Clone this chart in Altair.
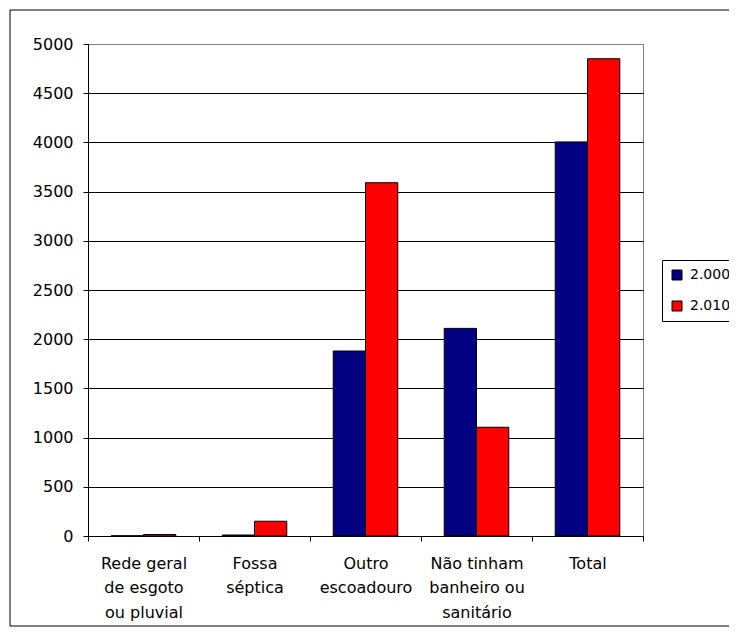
import altair as alt
import pandas as pd

categories = [
    "Rede geral de esgoto ou pluvial",
    "Fossa séptica",
    "Outro escoadouro",
    "Não tinham banheiro ou sanitário",
    "Total",
]
label_lines = [
    ["Rede geral", "de esgoto", "ou pluvial"],
    ["Fossa", "séptica"],
    ["Outro", "escoadouro"],
    ["Não tinham", "banheiro ou", "sanitário"],
    ["Total"],
]
series = ["2.000", "2.010"]
values_2000 = [2, 10, 1880, 2110, 4005]
values_2010 = [15, 150, 3590, 1105, 4850]
y_ticks = list(range(0, 5001, 500))

df = pd.DataFrame({
    "categoria": categories * 2,
    "ano": [series[0]] * len(categories) + [series[1]] * len(categories),
    "valor": values_2000 + values_2010,
})

label_expr = ""
for c, lines in zip(categories, label_lines):
    label_expr += f"datum.value == {c!r} ? {lines!r} : "
label_expr += "datum.label"

FONT = "DejaVu Sans"

bars = alt.Chart(df).mark_bar(stroke="black", strokeWidth=1).encode(
    x=alt.X(
        "categoria:N",
        sort=categories,
        scale=alt.Scale(paddingInner=0, paddingOuter=0),
        axis=alt.Axis(
            title=None, labelAngle=0, labelExpr=label_expr, labelFont=FONT,
            labelFontSize=16, labelColor="black", labelPadding=14,
            labelLineHeight=24.5, tickBand="extent", tickSize=5,
            tickColor="black", domainColor="black", grid=False, labelLimit=0,
        ),
    ),
    xOffset=alt.XOffset("ano:N", sort=series,
                        scale=alt.Scale(paddingInner=0, paddingOuter=0.72)),
    y=alt.Y(
        "valor:Q",
        scale=alt.Scale(domain=[0, 5000], nice=False),
        axis=alt.Axis(
            title=None, values=y_ticks, format="d", labelFont=FONT,
            labelFontSize=16, labelColor="black", labelPadding=10,
            tickSize=5, tickColor="black", domainColor="black", grid=True,
            gridColor={"condition": {"test": "datum.value == 5000", "value": "#808080"},
                       "value": "black"},
            gridWidth=1,
        ),
    ),
    color=alt.Color(
        "ano:N",
        sort=series,
        scale=alt.Scale(domain=series, range=["#000080", "#ff0000"]),
        legend=alt.Legend(
            title=None, orient="none", legendX=574, legendY=216,
            strokeColor="black", padding=8, fillColor="white",
            symbolType="square", symbolSize=100, symbolStrokeColor="black",
            symbolStrokeWidth=1, labelFont=FONT, labelFontSize=14,
            labelColor="black", rowPadding=17, labelOffset=6,
        ),
    ),
)

one = pd.DataFrame({"f": [0]})
frame_left = alt.Chart(one).mark_rule(color="black", strokeWidth=1).encode(
    x=alt.value(-78), y=alt.value(-34), y2=alt.value(582)
)
frame_top = alt.Chart(one).mark_rule(color="black", strokeWidth=1).encode(
    x=alt.value(-78), x2=alt.value(641), y=alt.value(-34)
)
frame_bottom = alt.Chart(one).mark_rule(color="black", strokeWidth=1).encode(
    x=alt.value(-78), x2=alt.value(641), y=alt.value(582)
)

chart = alt.layer(frame_left, frame_top, frame_bottom, bars).properties(
    width=555,
    height=492,
    autosize=alt.AutoSizeParams(type="none"),
    padding={"left": 80, "top": 36, "right": 86, "bottom": 92},
    background="white",
).configure_view(stroke="#808080", strokeWidth=1).configure_legend(strokeWidth=1)

chart.save("out.html", embed_options={"renderer": "svg", "actions": False})
